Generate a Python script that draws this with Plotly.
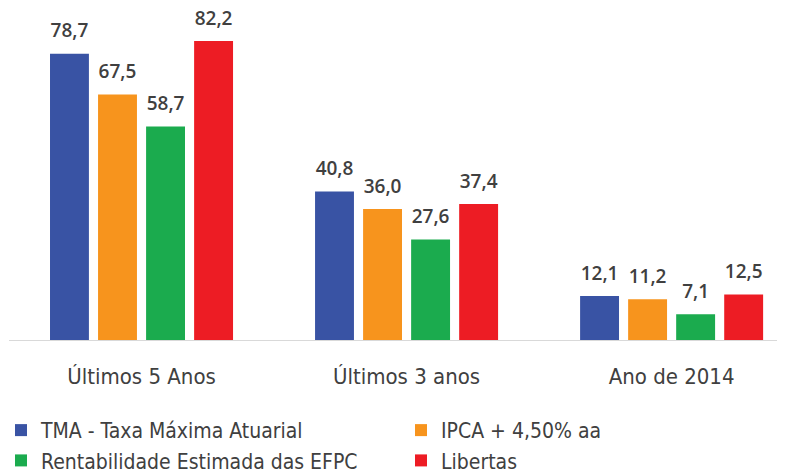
import plotly.graph_objects as go

# categories and series
categorias = ['Últimos 5 Anos', 'Últimos 3 anos', 'Ano de 2014']
tma = [78.7, 40.8, 12.1]
ipca = [67.5, 36.0, 11.2]
rentab = [58.7, 27.6, 7.1]
libertas = [82.2, 37.4, 12.5]

nomes = ['TMA - Taxa Máxima Atuarial', 'IPCA + 4,50% aa',
         'Rentabilidade Estimada das EFPC', 'Libertas']
cores = ['#3953a4', '#f7941d', '#1bab4e', '#ed1c24']
# left column of legend / right column of legend
legendas = ['legend', 'legend2', 'legend', 'legend2']

fonte = 'DejaVu Sans Condensed, Roboto, sans-serif'

fig = go.Figure()
series = [tma, ipca, rentab, libertas]
for i, (nome, vals, cor, leg) in enumerate(zip(nomes, series, cores, legendas)):
    fig.add_trace(go.Bar(
        x=categorias, y=vals, name=nome, legend=leg,
        offsetgroup=str(i), alignmentgroup='barras',
        marker=dict(color=cor, line=dict(width=0)),
    ))
# value labels (invisible markers push the text up a little)
for i, vals in enumerate(series):
    fig.add_trace(go.Scatter(
        x=categorias, y=vals, mode='markers+text',
        offsetgroup=str(i), alignmentgroup='rotulos',
        marker=dict(size=17, color='rgba(0,0,0,0)'),
        texttemplate='%{y:.1f}', textposition='top center',
        textfont=dict(size=19, color='#404040', family='Open Sans, sans-serif',
                      weight=600),
        showlegend=False, hoverinfo='skip', cliponaxis=False,
    ))

leg_font = dict(size=21, color='#404040', family=fonte)
fig.update_layout(
    width=785, height=472,
    barmode='group', bargap=0.275, bargroupgap=0.19,
    scattermode='group', scattergap=0.275,
    separators=',.',
    plot_bgcolor='white', paper_bgcolor='white',
    margin=dict(l=1, r=0, t=2, b=140, autoexpand=False),
    font=dict(family=fonte, color='#404040'),
    legend=dict(x=-0.0102, xanchor='left', y=-0.212, yanchor='top',
                font=leg_font, itemwidth=30, tracegroupgap=0,
                bgcolor='rgba(0,0,0,0)'),
    legend2=dict(x=0.5, xanchor='left', y=-0.212, yanchor='top',
                 font=leg_font, itemwidth=30, tracegroupgap=0,
                 bgcolor='rgba(0,0,0,0)'),
)
fig.update_xaxes(
    range=[-0.5, 2.458], showline=True, linecolor='#d9d9d9', linewidth=1,
    ticks='outside', ticklen=17, tickcolor='rgba(0,0,0,0)',
    tickfont=dict(size=22, color='#404040'),
)
fig.update_yaxes(range=[0, 90.7], visible=False)

fig.write_html('out.html')
